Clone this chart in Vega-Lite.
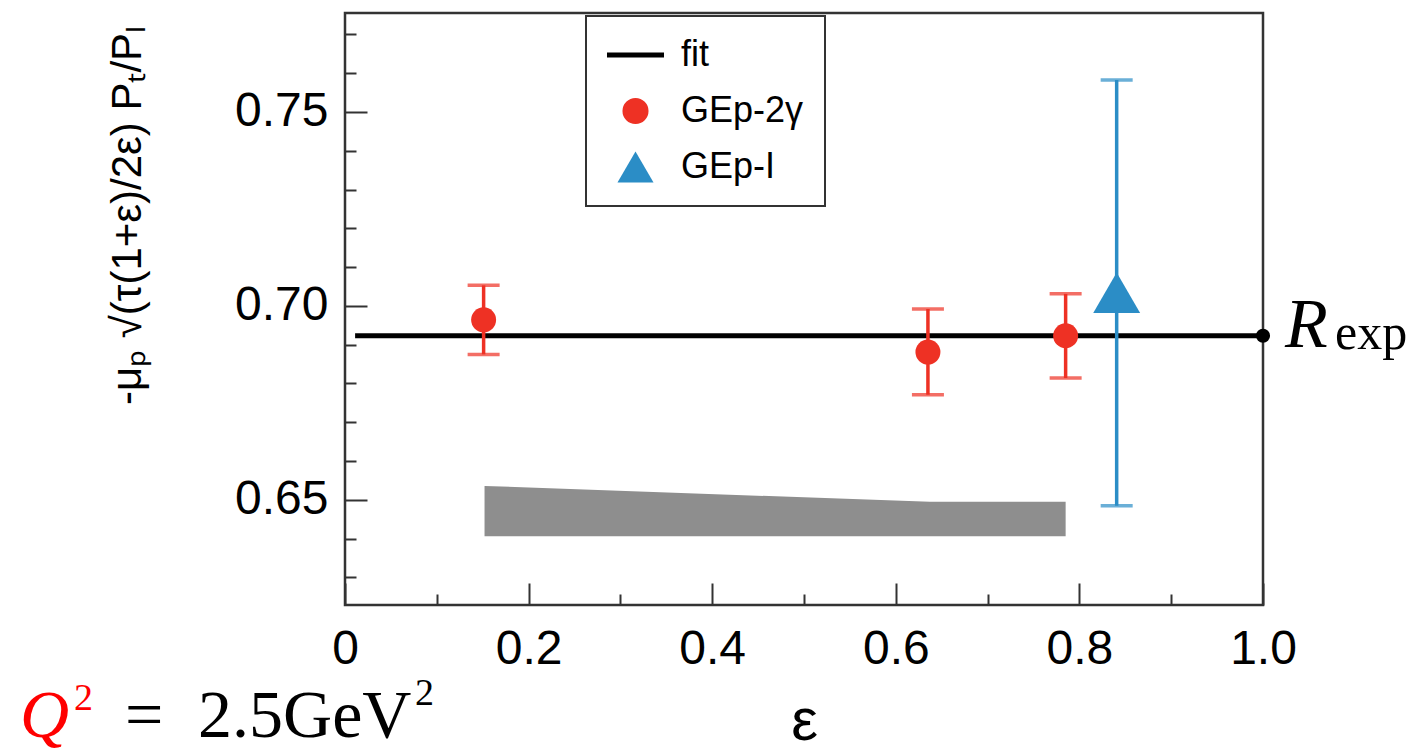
{
  "$schema": "https://vega.github.io/schema/vega-lite/v6.json",
  "width": 918,
  "height": 592,
  "autosize": {"type": "none"},
  "padding": {"left": 345, "top": 13, "right": 159, "bottom": 148},
  "background": "white",
  "config": {
    "view": {"stroke": "#333", "strokeWidth": 2.5},
    "font": "Liberation Sans",
    "legend": {
      "title": null,
      "orient": "none",
      "legendX": 241,
      "legendY": 3,
      "direction": "vertical",
      "labelFont": "Liberation Sans",
      "labelFontSize": 36,
      "labelColor": "black",
      "labelOffset": 38,
      "symbolSize": 3250,
      "symbolOpacity": 1,
      "rowPadding": 20,
      "padding": 21,
      "strokeColor": "#333",
      "fillColor": "white",
      "cornerRadius": 0
    }
  },
  "datasets": {
    "band": [
      {"eps": 0.152, "top": 0.6536, "bot": 0.6406},
      {"eps": 0.637, "top": 0.6495, "bot": 0.6406},
      {"eps": 0.785, "top": 0.6495, "bot": 0.6406}
    ],
    "fit": [
      {"eps": 0.011, "val": 0.6923, "series": "fit"},
      {"eps": 1.0, "val": 0.6923, "series": "fit"}
    ],
    "points": [
      {"eps": 0.151, "val": 0.6964, "lo": 0.6875, "hi": 0.7053, "series": "GEp-2γ"},
      {"eps": 0.635, "val": 0.6881, "lo": 0.6771, "hi": 0.6992, "series": "GEp-2γ"},
      {"eps": 0.785, "val": 0.6923, "lo": 0.6814, "hi": 0.7031, "series": "GEp-2γ"},
      {"eps": 0.8406, "val": 0.7034, "lo": 0.6485, "hi": 0.7582, "series": "GEp-I"}
    ],
    "rexp": [
      {"eps": 1.0, "val": 0.6923}
    ]
  },
  "layer": [
    {
      "data": {"name": "band"},
      "mark": {"type": "area", "color": "#8e8e8e", "opacity": 1},
      "encoding": {
        "x": {
          "field": "eps", "type": "quantitative",
          "scale": {"domain": [0, 1], "nice": false, "zero": false},
          "axis": {
            "title": "ε",
            "titleFont": "Liberation Sans",
            "titleFontSize": 60,
            "titleFontWeight": "normal",
            "titleColor": "black",
            "titlePadding": 8,
            "values": [0, 0.1, 0.2, 0.3, 0.4, 0.5, 0.6, 0.7, 0.8, 0.9, 1.0],
            "domain": false,
            "grid": false,
            "tickColor": "#333",
            "tickWidth": 2,
            "tickSize": {"condition": {"test": "abs(datum.value*5 - round(datum.value*5)) < 0.001", "value": -22}, "value": -11},
            "labelExpr": "abs(datum.value*5 - round(datum.value*5)) < 0.001 ? (datum.value == 0 ? '0' : format(datum.value, '.1f')) : ''",
            "labelFont": "Liberation Sans",
            "labelFontSize": 48,
            "labelColor": "black",
            "labelPadding": 42,
            "labelFlush": false,
            "labelOverlap": false
          }
        },
        "y": {
          "field": "top", "type": "quantitative",
          "scale": {"domain": [0.6229, 0.7755], "nice": false, "zero": false},
          "axis": {
            "title": "-μₚ √(τ(1+ε)/2ε)  Pₜ/Pₗ",
            "titleFont": "Liberation Sans",
            "titleFontSize": 42,
            "titleFontWeight": "normal",
            "titleColor": "black",
            "titleAngle": 270,
            "titleX": -218,
            "titleY": 202,
            "titleAlign": "center",
            "titleBaseline": "middle",
            "values": [0.63, 0.64, 0.65, 0.66, 0.67, 0.68, 0.69, 0.70, 0.71, 0.72, 0.73, 0.74, 0.75, 0.76, 0.77],
            "domain": false,
            "grid": false,
            "tickColor": "#333",
            "tickWidth": 2,
            "tickSize": {"condition": {"test": "abs(datum.value*20 - round(datum.value*20)) < 0.001", "value": -22}, "value": -11},
            "labelExpr": "abs(datum.value*20 - round(datum.value*20)) < 0.001 ? format(datum.value, '.2f') : ''",
            "labelFont": "Liberation Sans",
            "labelFontSize": 48,
            "labelColor": "black",
            "labelPadding": 39,
            "labelFlush": false,
            "labelOverlap": false
          }
        },
        "y2": {"field": "bot"}
      }
    },
    {
      "data": {"name": "fit"},
      "mark": {"type": "line", "strokeWidth": 5},
      "encoding": {
        "x": {"field": "eps", "type": "quantitative"},
        "y": {"field": "val", "type": "quantitative"},
        "color": {
          "field": "series", "type": "nominal",
          "scale": {"domain": ["fit", "GEp-2γ", "GEp-I"], "range": ["black", "#ee3124", "#2b8dc6"]},
          "legend": {
            "encode": {
              "legend": {"update": {"strokeWidth": {"value": 2}}},
              "symbols": {
                "update": {
                  "x": {"value": 28.5},
                  "size": {"signal": "datum.value === 'fit' ? 3250 : datum.value === 'GEp-I' ? 1300 : 680"},
                  "strokeWidth": {"signal": "datum.value === 'fit' ? 5 : 0"},
                  "stroke": {"signal": "datum.value === 'fit' ? 'black' : 'transparent'"},
                  "opacity": {"value": 1},
                  "fillOpacity": {"value": 1},
                  "strokeOpacity": {"value": 1}
                }
              }
            }
          }
        }
      }
    },
    {
      "data": {"name": "points"},
      "mark": {"type": "rule", "strokeWidth": 3.5},
      "encoding": {
        "x": {"field": "eps", "type": "quantitative"},
        "y": {"field": "lo", "type": "quantitative"},
        "y2": {"field": "hi"},
        "color": {"field": "series", "type": "nominal"}
      }
    },
    {
      "data": {"name": "points"},
      "mark": {"type": "tick", "orient": "horizontal", "size": 32, "thickness": 3.5},
      "encoding": {
        "x": {"field": "eps", "type": "quantitative"},
        "y": {"field": "lo", "type": "quantitative"},
        "color": {"field": "series", "type": "nominal"}
      }
    },
    {
      "data": {"name": "points"},
      "mark": {"type": "tick", "orient": "horizontal", "size": 32, "thickness": 3.5},
      "encoding": {
        "x": {"field": "eps", "type": "quantitative"},
        "y": {"field": "hi", "type": "quantitative"},
        "color": {"field": "series", "type": "nominal"}
      }
    },
    {
      "data": {"name": "points"},
      "transform": [{"filter": "datum.series === 'GEp-2γ'"}],
      "mark": {"type": "point", "filled": true, "size": 625, "opacity": 1, "strokeWidth": 0},
      "encoding": {
        "x": {"field": "eps", "type": "quantitative"},
        "y": {"field": "val", "type": "quantitative"},
        "color": {"field": "series", "type": "nominal"},
        "shape": {
          "field": "series", "type": "nominal",
          "scale": {"domain": ["fit", "GEp-2γ", "GEp-I"], "range": ["stroke", "circle", "triangle-up"]},
          "legend": {
            "encode": {
              "legend": {"update": {"strokeWidth": {"value": 2}}},
              "symbols": {
                "update": {
                  "x": {"value": 28.5},
                  "size": {"signal": "datum.value === 'fit' ? 3250 : datum.value === 'GEp-I' ? 1300 : 680"},
                  "strokeWidth": {"signal": "datum.value === 'fit' ? 5 : 0"},
                  "stroke": {"signal": "datum.value === 'fit' ? 'black' : 'transparent'"},
                  "opacity": {"value": 1},
                  "fillOpacity": {"value": 1},
                  "strokeOpacity": {"value": 1}
                }
              }
            }
          }
        }
      }
    },
    {
      "data": {"name": "points"},
      "transform": [{"filter": "datum.series === 'GEp-I'"}],
      "mark": {"type": "point", "filled": true, "size": 2200, "opacity": 1, "strokeWidth": 0},
      "encoding": {
        "x": {"field": "eps", "type": "quantitative"},
        "y": {"field": "val", "type": "quantitative"},
        "color": {"field": "series", "type": "nominal"},
        "shape": {"field": "series", "type": "nominal"}
      }
    },
    {
      "data": {"name": "rexp"},
      "mark": {"type": "point", "filled": true, "size": 200, "color": "black", "opacity": 1},
      "encoding": {
        "x": {"field": "eps", "type": "quantitative"},
        "y": {"field": "val", "type": "quantitative"}
      }
    },
    {
      "data": {"name": "rexp"},
      "mark": {"type": "text", "text": "R", "font": "Liberation Serif", "fontStyle": "italic", "fontSize": 70, "align": "left", "baseline": "alphabetic", "dx": 22, "dy": 11, "color": "black"},
      "encoding": {
        "x": {"field": "eps", "type": "quantitative"},
        "y": {"field": "val", "type": "quantitative"}
      }
    },
    {
      "data": {"name": "rexp"},
      "mark": {"type": "text", "text": "exp", "font": "Liberation Serif", "fontSize": 50, "align": "left", "baseline": "alphabetic", "dx": 72, "dy": 13, "color": "black"},
      "encoding": {
        "x": {"field": "eps", "type": "quantitative"},
        "y": {"field": "val", "type": "quantitative"}
      }
    },
    {
      "data": {"values": [{}]},
      "mark": {"type": "text", "text": "Q", "font": "Liberation Serif", "fontStyle": "italic", "fontSize": 68, "align": "left", "baseline": "alphabetic", "color": "#ff0000"},
      "encoding": {
        "x": {"datum": -0.354, "type": "quantitative"},
        "y": {"datum": 0.58892, "type": "quantitative"}
      }
    },
    {
      "data": {"values": [{}]},
      "mark": {"type": "text", "text": "2", "font": "Liberation Serif", "fontSize": 38, "align": "left", "baseline": "alphabetic", "color": "#ff0000"},
      "encoding": {
        "x": {"datum": -0.2952, "type": "quantitative"},
        "y": {"datum": 0.5959, "type": "quantitative"}
      }
    },
    {
      "data": {"values": [{}]},
      "mark": {"type": "text", "text": "=", "font": "Liberation Serif", "fontSize": 68, "align": "left", "baseline": "alphabetic", "color": "black"},
      "encoding": {
        "x": {"datum": -0.2397, "type": "quantitative"},
        "y": {"datum": 0.58892, "type": "quantitative"}
      }
    },
    {
      "data": {"values": [{}]},
      "mark": {"type": "text", "text": "2.5GeV", "font": "Liberation Serif", "fontSize": 68, "align": "left", "baseline": "alphabetic", "color": "black"},
      "encoding": {
        "x": {"datum": -0.1601, "type": "quantitative"},
        "y": {"datum": 0.58892, "type": "quantitative"}
      }
    },
    {
      "data": {"values": [{}]},
      "mark": {"type": "text", "text": "2", "font": "Liberation Serif", "fontSize": 38, "align": "left", "baseline": "alphabetic", "color": "black"},
      "encoding": {
        "x": {"datum": 0.0763, "type": "quantitative"},
        "y": {"datum": 0.5971, "type": "quantitative"}
      }
    }
  ]
}
